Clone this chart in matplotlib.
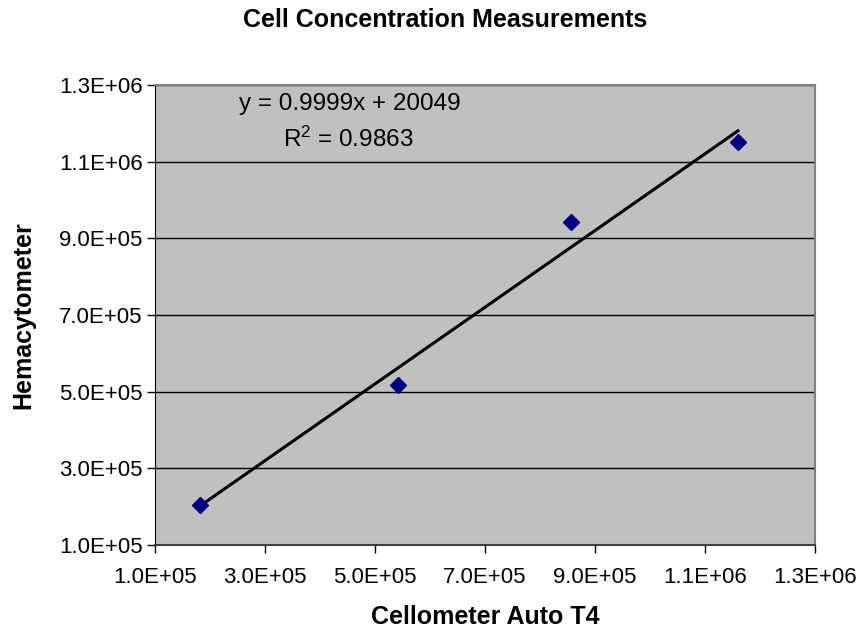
import numpy as np
import matplotlib.pyplot as plt
from matplotlib.ticker import FuncFormatter

# data
cellometer = [1.82e5, 5.42e5, 8.56e5, 1.16e6]
hemacytometer = [2.05e5, 5.17e5, 9.43e5, 1.151e6]
slope = 0.9999
intercept = 20049
r2 = 0.9863
ticks = [1e5, 3e5, 5e5, 7e5, 9e5, 1.1e6, 1.3e6]

plt.rcParams['font.family'] = ['Liberation Sans', 'DejaVu Sans']

fig = plt.figure(figsize=(8.66, 6.33), dpi=100)
ax = fig.add_axes([0.179, 0.139, 0.762, 0.727])
ax.set_facecolor('#c0c0c0')

# trendline
xs = np.array([min(cellometer), max(cellometer)])
ax.plot(xs, slope * xs + intercept, color='black', lw=2.2, zorder=3)
ax.plot(cellometer, hemacytometer, 'D', color='#000080', markersize=8.5, zorder=4)

ax.set_xlim(ticks[0], ticks[-1])
ax.set_ylim(ticks[0], ticks[-1])
ax.set_xticks(ticks)
ax.set_yticks(ticks)
fmt = FuncFormatter(lambda v, p: '%.1E' % v)
ax.xaxis.set_major_formatter(fmt)
ax.yaxis.set_major_formatter(fmt)
ax.yaxis.grid(True, color='black', lw=1)
ax.set_axisbelow(True)
ax.tick_params(axis='both', labelsize=16, length=6, width=1, color='black')
ax.tick_params(axis='x', pad=10)
ax.tick_params(axis='y', pad=3)

for s in ['top', 'right']:
    ax.spines[s].set_color('#808080')
    ax.spines[s].set_linewidth(1.5)
ax.spines['left'].set_color('black')
ax.spines['bottom'].set_color('#404040')
ax.spines['bottom'].set_linewidth(1.5)

ax.set_xlabel('Cellometer Auto T4', fontsize=18, fontweight='bold')
ax.set_ylabel('Hemacytometer', fontsize=18, fontweight='bold')
ax.xaxis.set_label_coords(0.5, -0.13)
ax.yaxis.set_label_coords(-0.182, 0.5)
fig.text(0.514, 0.957, 'Cell Concentration Measurements', fontsize=18,
         fontweight='bold', ha='center', va='baseline')

fig.text(0.404, 0.8262, 'y = %.4fx + %d' % (slope, intercept),
         ha='center', va='baseline', fontsize=17.5)
fig.text(0.402, 0.7678, '$\\mathregular{R^2}$ = %.4f' % r2,
         ha='center', va='baseline', fontsize=17.5)

fig.savefig('out.png', dpi=100)
